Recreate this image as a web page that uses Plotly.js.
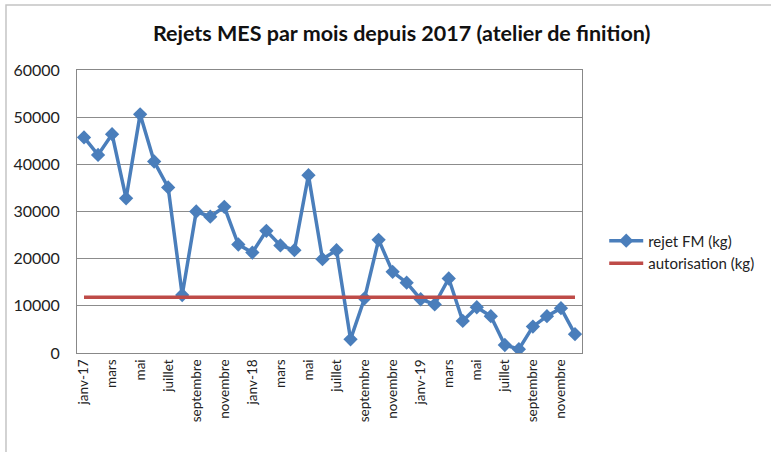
<!DOCTYPE html>
<html><head><meta charset="utf-8">
<script src="https://cdn.plot.ly/plotly-3.0.1.min.js"></script>
<style>html,body{margin:0;padding:0;background:#fff}#c{width:771px;height:452px}</style>
</head><body><div id="c"></div>
<script>
const months = ["janv-17","févr-17","mars-17","avr-17","mai-17","juin-17","juil-17","août-17","sept-17","oct-17","nov-17","déc-17",
"janv-18","févr-18","mars-18","avr-18","mai-18","juin-18","juil-18","août-18","sept-18","oct-18","nov-18","déc-18",
"janv-19","févr-19","mars-19","avr-19","mai-19","juin-19","juil-19","août-19","sept-19","oct-19","nov-19","déc-19"];
const rejetFM = [45700,42000,46400,32800,50600,40600,35100,12300,30000,28900,31000,23000,
21300,25900,22800,21800,37700,19900,21800,2900,11600,24000,17200,14900,
11400,10300,15800,6800,9700,7800,1700,800,5600,7800,9500,4000];
const autorisation = [11800,11800,11800,11800,11800,11800,11800,11800,11800,11800,11800,11800,
11800,11800,11800,11800,11800,11800,11800,11800,11800,11800,11800,11800,
11800,11800,11800,11800,11800,11800,11800,11800,11800,11800,11800,11800];
const tickVals = ["janv-17","mars-17","mai-17","juil-17","sept-17","nov-17","janv-18","mars-18","mai-18","juil-18","sept-18","nov-18","janv-19","mars-19","mai-19","juil-19","sept-19","nov-19"];
const tickText = ["janv-17","mars","mai","juillet","septembre","novembre","janv-18","mars","mai","juillet","septembre","novembre","janv-19","mars","mai","juillet","septembre","novembre"];
const yTicks = [0,10000,20000,30000,40000,50000,60000];

const font = "Lato, 'Open Sans', sans-serif";
const traces = [
 {type:'scatter',mode:'lines+markers',name:'rejet FM (kg)',x:months,y:rejetFM,
  line:{color:'#4a7ebb',width:3.5},marker:{symbol:'diamond',size:11,color:'#4a7ebb'}},
 {type:'scatter',mode:'lines',name:'autorisation (kg)',x:months,y:autorisation,
  line:{color:'#be4b48',width:3.5}}
];
const layout = {
 width:771,height:452,
 margin:{l:77,r:189,t:70,b:99},
 paper_bgcolor:'#fff',plot_bgcolor:'#fff',
 font:{family:font,size:13,color:'#222'},
 title:{text:'<b>Rejets MES par mois depuis 2017 (atelier de finition)</b>',x:0.521,xanchor:'center',y:0.925,yanchor:'middle',
  font:{family:font,size:21.5,color:'#111'}},
 xaxis:{type:'category',tickmode:'array',tickvals:tickVals,ticktext:tickText,tickangle:-90,
  showgrid:false,showline:true,linecolor:'#888',linewidth:1,mirror:true,ticks:'',
  tickfont:{family:font,size:13.5,color:'#222'},range:[-0.5,35.5]},
 yaxis:{range:[0,60000],tickmode:'array',tickvals:yTicks,tickformat:'d',
  showgrid:true,gridcolor:'#8c8c8c',gridwidth:1,zeroline:false,showline:true,linecolor:'#888',mirror:true,
  ticks:'',ticklabelstandoff:13,tickfont:{family:font,size:16,color:'#222'}},
 legend:{x:1.044,y:0.357,xanchor:'left',yanchor:'middle',font:{family:font,size:15,color:'#222'},
  bgcolor:'rgba(0,0,0,0)',tracegroupgap:19,itemwidth:34},
 shapes:[{type:'rect',xref:'paper',yref:'paper',x0:-0.1406,x1:1.6,y0:-0.6,y1:1.2297,
  line:{color:'#c4c4c4',width:1.5},layer:'below'}],
 showlegend:true
};
Plotly.newPlot('c',traces,layout,{displayModeBar:false,staticPlot:true});
</script></body></html>
